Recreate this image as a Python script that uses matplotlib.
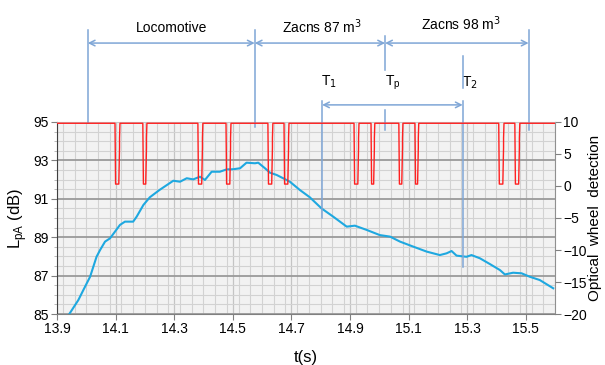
import numpy as np
import matplotlib
matplotlib.use('Agg')
import matplotlib.pyplot as plt
from matplotlib.ticker import MultipleLocator

plt.rcParams['font.family'] = ['Liberation Sans', 'DejaVu Sans']

# sound level L_pA (dB)
t_lpa = [13.942, 13.973, 13.99, 14.013, 14.035, 14.047, 14.064, 14.081, 14.098, 14.115,
         14.132, 14.16, 14.172, 14.195, 14.217, 14.25, 14.297, 14.32, 14.343, 14.365,
         14.388, 14.405, 14.428, 14.456, 14.479, 14.502, 14.525, 14.547, 14.576, 14.587,
         14.61, 14.627, 14.65, 14.672, 14.695, 14.729, 14.763, 14.803, 14.843, 14.889,
         14.917, 14.957, 15.002, 15.037, 15.071, 15.116, 15.162, 15.207, 15.23, 15.247,
         15.264, 15.298, 15.315, 15.344, 15.378, 15.412, 15.429, 15.457, 15.486, 15.514,
         15.548, 15.594]
lpa = [85.0, 85.73, 86.25, 86.94, 87.98, 88.33, 88.77, 88.94, 89.29, 89.64,
       89.81, 89.81, 90.07, 90.68, 91.08, 91.46, 91.94, 91.89, 92.07, 92.01,
       92.15, 91.98, 92.41, 92.41, 92.53, 92.54, 92.59, 92.88, 92.85, 92.88,
       92.59, 92.36, 92.24, 92.07, 91.89, 91.46, 91.08, 90.50, 90.07, 89.55,
       89.60, 89.38, 89.11, 89.03, 88.77, 88.51, 88.25, 88.07, 88.16, 88.28,
       88.04, 87.98, 88.07, 87.9, 87.6, 87.29, 87.06, 87.15, 87.12, 86.94,
       86.77, 86.34]

# optical wheel detector: dip start / end times
dip_start = [14.098, 14.193, 14.381, 14.477, 14.620, 14.675,
             14.914, 14.972, 15.067, 15.122, 15.408, 15.463]
dip_end = [14.115, 14.207, 14.398, 14.494, 14.637, 14.692,
           14.931, 14.985, 15.081, 15.135, 15.426, 15.480]
det_high = 9.8
det_low = 0.3
det_mid = [6.0, 7.5]

# annotation times
t_loco = 14.005
t_split = 14.575
t_p = 15.02
t_end = 15.51
t_1 = 14.805
t_2 = 15.285

xticks = [13.9, 14.1, 14.3, 14.5, 14.7, 14.9, 15.1, 15.3, 15.5]
yticks = [85, 87, 89, 91, 93, 95]
y2ticks = [-20, -15, -10, -5, 0, 5, 10]

# build the detector trace
det_t = [13.9]
det_v = [det_high]
for s, e in zip(dip_start, dip_end):
    det_t += [s, s + 0.002, e - 0.004, e - 0.0015, e - 0.0015, e]
    det_v += [det_high, det_low, det_low, det_mid[0], det_mid[1], det_high]
det_t.append(15.6)
det_v.append(det_high)

fig = plt.figure(figsize=(6.05, 3.65), dpi=100)
ax = fig.add_axes([0.0942, 0.1397, 0.8231, 0.5261])
ax.set_facecolor('#f2f2f2')
ax.set_xlim(13.9, 15.6)
ax.set_ylim(85, 95)
ax.set_xticks(xticks)
ax.set_yticks(yticks)
ax.xaxis.set_minor_locator(MultipleLocator(0.04))
ax.yaxis.set_minor_locator(MultipleLocator(0.5))
ax.set_axisbelow(True)
ax.grid(which='minor', axis='both', color='#d2d2d2', lw=0.8)
ax.grid(which='major', axis='x', color='#c4c4c4', lw=0.9)
ax.grid(which='major', axis='y', color='#9a9a9a', lw=1.3)
ax.tick_params(which='major', direction='out', length=4, color='#808080',
               labelsize=10, pad=2)
ax.tick_params(which='minor', direction='out', length=2, color='#b0b0b0')
ax.tick_params(axis='x', which='minor', length=0)
for side, c in [('left', '#404040'), ('bottom', '#808080'),
                ('right', '#909090'), ('top', '#c8c8c8')]:
    ax.spines[side].set_color(c)

ax.plot(t_lpa, lpa, color='#1ea8e0', lw=1.5, zorder=3)
ax.set_ylabel('L$_{\\mathregular{pA}}$ (dB)', fontsize=12, labelpad=3)
ax.set_xlabel('t(s)', fontsize=12, labelpad=10)

ax2 = ax.twinx()
ax2.set_ylim(-20, 10)
ax2.set_yticks(y2ticks)
ax2.tick_params(direction='out', length=4, color='#808080', labelsize=10, pad=2)
for side in ['left', 'right', 'top', 'bottom']:
    ax2.spines[side].set_visible(False)
ax2.plot(det_t, det_v, color='#ff2020', lw=1.0, zorder=4)
ax2.set_ylabel('Optical  wheel  detection', fontsize=11, labelpad=1)

# annotations above the plot
lc = '#7fa6d6'
tr = ax.get_xaxis_transform()
vlines = [(t_loco, 0.995, 1.479), (t_split, 0.974, 1.479),
          (t_p, 1.271, 1.448), (t_p, 0.958, 1.0625),
          (t_end, 0.958, 1.479), (t_1, 0.50, 1.109),
          (t_2, 1.177, 1.344), (t_2, 0.245, 1.109)]
for x, y0, y1 in vlines:
    ax.plot([x, x], [y0, y1], color=lc, lw=1.1, transform=tr, clip_on=False, zorder=5)

arrows = [(t_loco, t_split, 1.411), (t_split, t_p, 1.411),
          (t_p, t_end, 1.411), (t_1, t_2, 1.089)]
for a, b, y in arrows:
    ax.annotate('', xy=(a, y), xytext=(b, y), xycoords=tr, textcoords=tr,
                arrowprops=dict(arrowstyle='<->', color=lc, lw=1.1,
                                shrinkA=0, shrinkB=0, mutation_scale=10),
                annotation_clip=False)

ax.text((t_loco + t_split) / 2, 1.49, 'Locomotive', transform=tr, ha='center',
        va='center', fontsize=10)
ax.text(14.804, 1.495, 'Zacns 87 m$^3$', transform=tr, ha='center',
        va='center', fontsize=10)
ax.text(15.279, 1.51, 'Zacns 98 m$^3$', transform=tr, ha='center',
        va='center', fontsize=10)
ax.text(14.828, 1.208, 'T$_1$', transform=tr, ha='center', va='center', fontsize=10)
ax.text(15.047, 1.203, 'T$_\\mathregular{p}$', transform=tr, ha='center',
        va='center', fontsize=10)
ax.text(15.31, 1.203, 'T$_2$', transform=tr, ha='center', va='center', fontsize=10)

fig.savefig('out.png', dpi=100)
